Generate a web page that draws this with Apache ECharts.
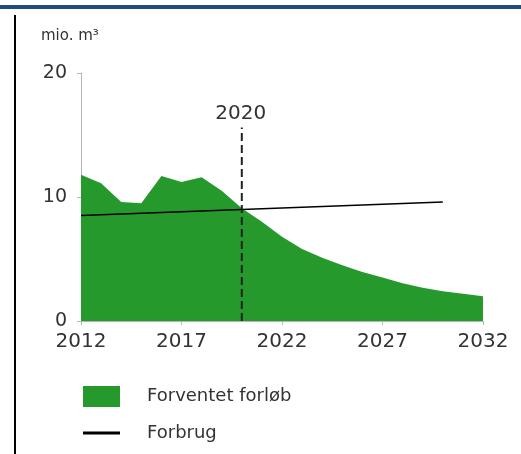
<!DOCTYPE html>
<html>
<head>
<meta charset="utf-8">
<script src="https://cdn.jsdelivr.net/npm/echarts@6/dist/echarts.min.js"></script>
<style>
html,body{margin:0;padding:0;background:#fff;}
#chart{width:521px;height:454px;}
</style>
</head>
<body>
<div id="chart"></div>
<script>
// Data
var years = [2012,2013,2014,2015,2016,2017,2018,2019,2020,2021,2022,2023,2024,2025,2026,2027,2028,2029,2030,2031,2032];
var forventet = [11.8,11.1,9.6,9.5,11.7,11.2,11.6,10.5,9.1,8.0,6.8,5.8,5.1,4.5,3.95,3.5,3.05,2.68,2.4,2.2,2.0];
var forbrugYears = [2012, 2030];
var forbrug = [8.5, 9.6];
var markerYear = 2020;
var markerTop = 15.6;
var xTicks = [2012, 2017, 2022, 2027, 2032];
var yTicks = [0, 10, 20];
var seriesNames = ['Forventet forløb', 'Forbrug'];
var unitLabel = 'mio. m³';

var chart = echarts.init(document.getElementById('chart'), null, {renderer: 'canvas'});
var font = '"DejaVu Sans", Verdana, sans-serif';
var textColor = '#333333';
var green = '#26992c';

var option = {
  animation: false,
  backgroundColor: '#ffffff',
  grid: {left: 81, right: 38, top: 73, bottom: 133, containLabel: false},
  xAxis: {
    type: 'value',
    min: xTicks[0], max: xTicks[xTicks.length - 1], interval: 5,
    axisLine: {show: true, lineStyle: {color: '#b5b5b5', width: 1}},
    axisTick: {show: true, length: 4, lineStyle: {color: '#b5b5b5'}},
    splitLine: {show: false},
    axisLabel: {color: textColor, fontFamily: font, fontSize: 20, margin: 11, showMinLabel: true, showMaxLabel: true,
      formatter: function(v){ return String(v); }}
  },
  yAxis: {
    type: 'value',
    min: yTicks[0], max: yTicks[yTicks.length - 1], interval: 10,
    axisLine: {show: true, lineStyle: {color: '#b5b5b5', width: 1}},
    axisTick: {show: true, length: 4, lineStyle: {color: '#b5b5b5'}},
    splitLine: {show: false},
    axisLabel: {color: textColor, fontFamily: font, fontSize: 19, margin: 14}
  },
  legend: [
    {
      data: [{name: seriesNames[0], icon: 'rect'}],
      orient: 'vertical', left: 83, top: 386, padding: 0,
      itemWidth: 37, itemHeight: 21,
      textStyle: {color: textColor, fontFamily: font, fontSize: 18, padding: [0,0,0,22]},
      selectedMode: false
    },
    {
      data: [{name: seriesNames[1], icon: 'rect', itemStyle: {color: '#000'}}],
      orient: 'vertical', left: 83, top: 422, padding: 0,
      itemWidth: 37, itemHeight: 3,
      textStyle: {color: textColor, fontFamily: font, fontSize: 18, padding: [0,0,0,22], lineHeight: 22},
      selectedMode: false
    }
  ],
  graphic: [
    {type: 'rect', shape: {x: 0, y: 5, width: 521, height: 4}, style: {fill: '#1e4a7e'}},
    {type: 'rect', shape: {x: 14, y: 15, width: 2, height: 439}, style: {fill: '#000'}},
    {type: 'text', left: 41, top: 29, style: {text: unitLabel, fill: textColor, font: '15px ' + font}}
  ],
  series: [
    {
      name: seriesNames[0],
      type: 'line',
      data: years.map(function(y, i){ return [y, forventet[i]]; }),
      symbol: 'none',
      lineStyle: {width: 0},
      itemStyle: {color: green},
      areaStyle: {color: green, opacity: 1},
      z: 1
    },
    {
      name: seriesNames[1],
      type: 'line',
      data: forbrugYears.map(function(y, i){ return [y, forbrug[i]]; }),
      symbol: 'none',
      lineStyle: {color: '#000', width: 1.5},
      itemStyle: {color: '#000'},
      z: 3
    },
    {
      name: 'marker',
      type: 'line',
      data: [[markerYear, 0], [markerYear, markerTop]],
      symbol: 'none',
      lineStyle: {color: '#222', width: 2, type: [8, 4]},
      z: 4,
      silent: true,
      endLabel: {show: true, formatter: String(markerYear), color: textColor, fontFamily: font, fontSize: 20, offset: [-9, -14], align: 'center'}
    }
  ]
};
chart.setOption(option);
</script>
</body>
</html>
